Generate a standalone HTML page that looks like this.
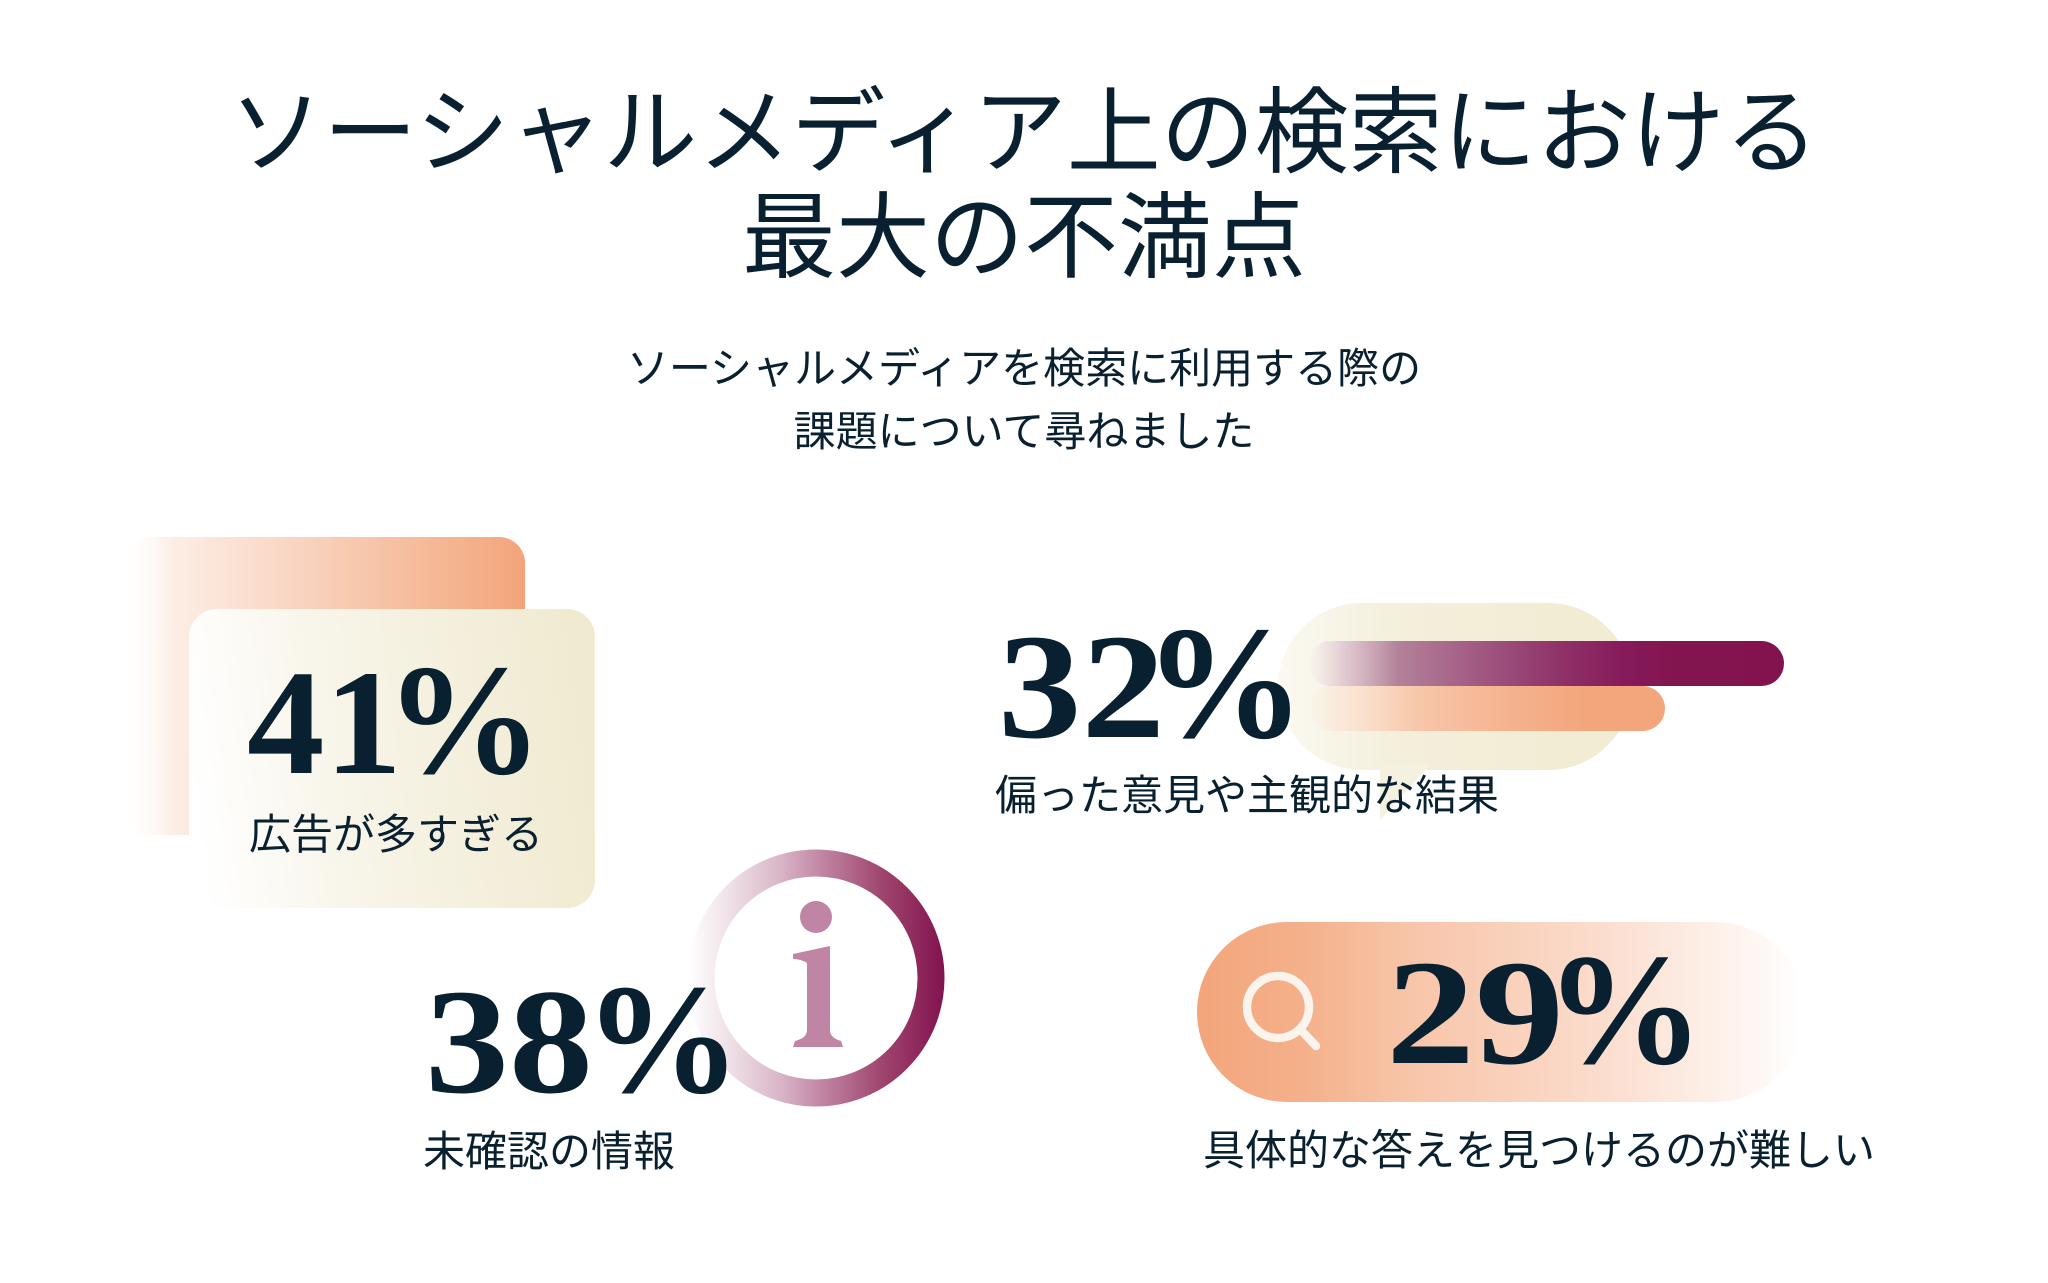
<!DOCTYPE html>
<html>
<head>
<meta charset="utf-8">
<style>
  html, body { margin: 0; padding: 0; background: #ffffff; }
  svg { display: block; }
  .jp { font-family: "Liberation Sans", "Noto Sans CJK JP", sans-serif; fill: #08202f; }
  .num { font-family: "Liberation Serif", serif; font-weight: bold; fill: #08202f; }
</style>
</head>
<body>
<svg width="2048" height="1283" viewBox="0 0 2048 1283" xmlns="http://www.w3.org/2000/svg">
  <defs>
    <linearGradient id="gBack" x1="0" y1="0" x2="1" y2="0">
      <stop offset="0" stop-color="#ffffff" stop-opacity="0"/>
      <stop offset="0.12" stop-color="#fdeee6"/>
      <stop offset="0.5" stop-color="#f8cfb8"/>
      <stop offset="0.8" stop-color="#f5b693"/>
      <stop offset="1" stop-color="#f3a47a"/>
    </linearGradient>
    <linearGradient id="gFront" x1="0" y1="0.55" x2="1" y2="0.45">
      <stop offset="0" stop-color="#ffffff"/>
      <stop offset="0.35" stop-color="#f8f5ea"/>
      <stop offset="1" stop-color="#f0ead0"/>
    </linearGradient>
    <linearGradient id="gBubble" x1="0" y1="0" x2="1" y2="0">
      <stop offset="0" stop-color="#fbf9f1"/>
      <stop offset="0.35" stop-color="#f3efdb"/>
      <stop offset="1" stop-color="#f1ebd1"/>
    </linearGradient>
    <linearGradient id="gPurple" x1="0" y1="0" x2="1" y2="0">
      <stop offset="0" stop-color="#e6d0d8" stop-opacity="0"/>
      <stop offset="0.08" stop-color="#dcc0cc" stop-opacity="0.85"/>
      <stop offset="0.19" stop-color="#b38199"/>
      <stop offset="0.30" stop-color="#a8678a"/>
      <stop offset="0.40" stop-color="#9c4f7c"/>
      <stop offset="0.53" stop-color="#8f3268"/>
      <stop offset="0.66" stop-color="#861b5b"/>
      <stop offset="0.78" stop-color="#82144f"/>
      <stop offset="1" stop-color="#82134f"/>
    </linearGradient>
    <linearGradient id="gOrange" x1="0" y1="0" x2="1" y2="0">
      <stop offset="0" stop-color="#fbe2d2" stop-opacity="0"/>
      <stop offset="0.1" stop-color="#fbe2d2" stop-opacity="0.7"/>
      <stop offset="0.3" stop-color="#f8c7aa"/>
      <stop offset="0.6" stop-color="#f4b08a"/>
      <stop offset="0.8" stop-color="#f3a57b"/>
      <stop offset="1" stop-color="#f3a57b"/>
    </linearGradient>
    <linearGradient id="gRing" gradientUnits="userSpaceOnUse" x1="688" y1="0" x2="944" y2="0">
      <stop offset="0" stop-color="#ffffff"/>
      <stop offset="0.15" stop-color="#f0e3e9"/>
      <stop offset="0.35" stop-color="#dbb8c9"/>
      <stop offset="0.5" stop-color="#c48ca8"/>
      <stop offset="0.75" stop-color="#a0476f"/>
      <stop offset="1" stop-color="#82134f"/>
    </linearGradient>
    <linearGradient id="gPill" x1="0" y1="0" x2="1" y2="0">
      <stop offset="0" stop-color="#f3a57b"/>
      <stop offset="0.17" stop-color="#f4b08a"/>
      <stop offset="0.33" stop-color="#f7c3a6"/>
      <stop offset="0.66" stop-color="#fbdccc"/>
      <stop offset="0.83" stop-color="#fdeee6"/>
      <stop offset="1" stop-color="#ffffff"/>
    </linearGradient>
  </defs>

  <!-- Title -->
  <text class="jp" x="1024" y="165" text-anchor="middle" font-size="94">ソーシャルメディア上の検索における</text>
  <text class="jp" x="1024" y="270" text-anchor="middle" font-size="94">最大の不満点</text>

  <!-- Subtitle -->
  <text class="jp" x="1024" y="383" text-anchor="middle" font-size="42">ソーシャルメディアを検索に利用する際の</text>
  <text class="jp" x="1024" y="446" text-anchor="middle" font-size="42">課題について尋ねました</text>

  <!-- 41% card -->
  <rect x="123" y="537" width="402" height="298" rx="26" fill="url(#gBack)"/>
  <rect x="189" y="609" width="406" height="299" rx="28" fill="url(#gFront)"/>
  <text class="num" x="247" y="773" font-size="150" textLength="155" lengthAdjust="spacingAndGlyphs">41</text>
  <text class="num" x="385" y="773" font-size="158">%</text>
  <text class="jp" x="249" y="849" font-size="42">広告が多すぎる</text>

  <!-- 32% bubble and bars -->
  <rect x="1278" y="603" width="354" height="167" rx="83.5" fill="url(#gBubble)"/>
  <polygon points="1380,765 1380,820 1430,765" fill="#f5f1e0"/>
  <rect x="1308" y="641" width="476" height="45" rx="22.5" fill="url(#gPurple)"/>
  <rect x="1308" y="686" width="357" height="45" rx="22.5" fill="url(#gOrange)"/>
  <text class="num" x="998" y="737" font-size="150" textLength="167" lengthAdjust="spacingAndGlyphs">32</text>
  <text class="num" x="1144" y="737" font-size="161">%</text>
  <text class="jp" x="995" y="810" font-size="42">偏った意見や主観的な結果</text>

  <!-- 38% info ring -->
  <circle cx="816" cy="978" r="115" fill="none" stroke="url(#gRing)" stroke-width="27"/>
  <g fill="#c085a5">
    <circle cx="816" cy="917" r="16"/>
    <path d="M793 954 L830 946 L830 1030 Q830 1038 841 1041 L843 1047 L793 1047 L795 1041 Q807 1038 807 1030 L807 963 Q801 959 793 959 Z"/>
  </g>
  <text class="num" x="425" y="1092" font-size="150" textLength="168" lengthAdjust="spacingAndGlyphs">38</text>
  <text class="num" x="584" y="1092" font-size="157">%</text>
  <text class="jp" x="423" y="1166" font-size="42">未確認の情報</text>

  <!-- 29% pill -->
  <rect x="1197" y="922" width="608" height="180" rx="90" fill="url(#gPill)"/>
  <circle cx="1278" cy="1007" r="31" fill="none" stroke="#fbf4ec" stroke-width="8.5"/>
  <line x1="1300" y1="1029" x2="1316" y2="1046" stroke="#fbf4ec" stroke-width="8.5" stroke-linecap="round"/>
  <text class="num" x="1386" y="1063" font-size="150" textLength="178" lengthAdjust="spacingAndGlyphs">29</text>
  <text class="num" x="1545" y="1063" font-size="159">%</text>
  <text class="jp" x="1203" y="1165" font-size="42">具体的な答えを見つけるのが難しい</text>
</svg>
</body>
</html>
